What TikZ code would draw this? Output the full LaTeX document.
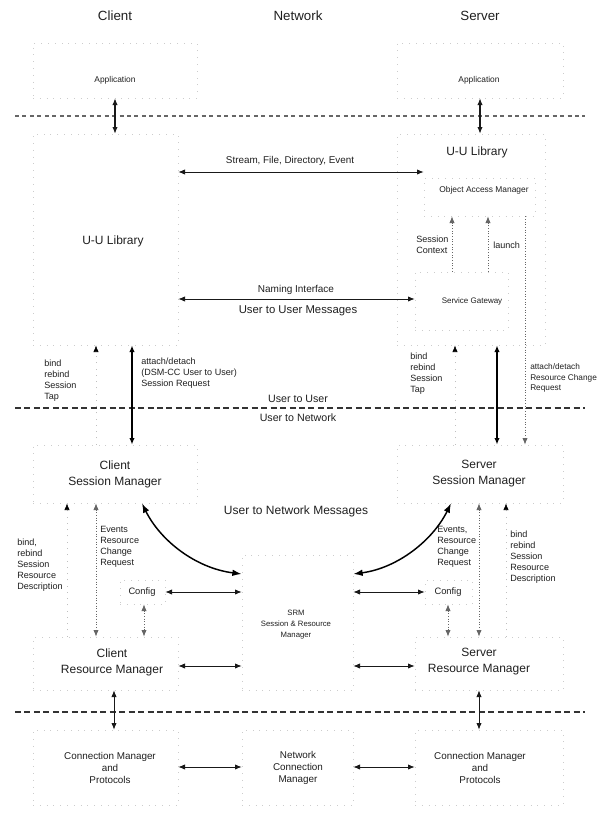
\documentclass[tikz,border=0pt]{standalone}
\usepackage{fontspec}
\setmainfont{Liberation Sans}
\usetikzlibrary{arrows.meta,fit}
\begin{document}
\begin{tikzpicture}[x=0.75pt,y=-0.75pt,
  >={Latex[length=5pt,width=4pt]},
  every node/.style={inner sep=0pt, text=black!88},
  boxfaint/.style={draw=black!20, line width=0.5pt, dash pattern=on 0.6pt off 4.5pt, inner sep=0pt},
  sepline/.style={draw=black!80, line width=0.8pt, dash pattern=on 4.5pt off 2.6pt},
  hdr/.style={font=\fontsize{10}{12}\selectfont},
  big/.style={font=\fontsize{9}{12}\selectfont, align=center},
  mid/.style={font=\fontsize{8}{10}\selectfont},
  lbl/.style={font=\fontsize{6.8}{8.25}\selectfont, align=left, anchor=west},
  small/.style={font=\fontsize{6.3}{8.25}\selectfont, align=center},
  cfg/.style={font=\fontsize{7}{9}\selectfont},
  cmtext/.style={font=\fontsize{7.4}{9}\selectfont, align=center},
  twoway/.style={<->, line width=0.6pt, draw=black!90},
  heavy/.style={<->, line width=1pt, draw=black},
  dotup/.style={->, draw=black!60, line width=0.6pt, dash pattern=on 0.8pt off 1.2pt},
  dotdown/.style={->, draw=black!60, line width=0.6pt, dash pattern=on 0.8pt off 1.2pt},
  dotdbl/.style={<->, draw=black!60, line width=0.6pt, dash pattern=on 0.8pt off 1.2pt},
  faintup/.style={draw=black!25, line width=0.5pt, dash pattern=on 0.7pt off 4pt, -{Latex[length=5pt,width=4pt,black]}},
  swoop/.style={{Latex[length=7pt,width=5pt]}-{Latex[length=7pt,width=5pt]}, line width=1.1pt}
]
\useasboundingbox (0,0) rectangle (597,815);

% column headings
\node[hdr] (hclient) at (115,16) {Client};
\node[hdr] (hnet) at (298,16) {Network};
\node[hdr] (hserver) at (480,16) {Server};

% component outlines
\node[boxfaint, fit={(33,43) (197,98)}] (capp) {};
\node[boxfaint, fit={(397,43) (563,98)}] (sapp) {};
\node[boxfaint, fit={(33,134) (178,345)}] (cuu) {};
\node[boxfaint, fit={(397,134) (545,345)}] (suu) {};
\node[boxfaint, fit={(424,178) (535,216)}] (oam) {};
\node[boxfaint, fit={(415,272) (508,330)}] (sgw) {};
\node[boxfaint, fit={(33,445) (197,503)}] (csm) {};
\node[boxfaint, fit={(397,445) (563,503)}] (ssm) {};
\node[boxfaint, fit={(120,580) (165,604)}] (ccfg) {};
\node[boxfaint, fit={(425,580) (472,604)}] (scfg) {};
\node[boxfaint, fit={(242,555) (353,690)}] (srm) {};
\node[boxfaint, fit={(33,637) (178,690)}] (crm) {};
\node[boxfaint, fit={(415,637) (563,690)}] (srmgr) {};
\node[boxfaint, fit={(33,730) (178,805)}] (ccm) {};
\node[boxfaint, fit={(242,730) (353,805)}] (ncm) {};
\node[boxfaint, fit={(415,730) (563,805)}] (scm) {};

% layer separators
\draw[sepline, draw=black!60, dash pattern=on 3pt off 2.6pt] (15,116) -- (585,116);
\draw[sepline] (15,408) -- (585,408);
\draw[sepline] (15,712) -- (585,712);

% labels
\node[small] (tcapp) at (115,80) {Application};
\node[small] (tsapp) at (479,80) {Application};
\node[big] (tsuu) at (477,152) {U-U Library};
\node[big] (tcuu) at (113,241) {U-U Library};
\node[font=\fontsize{7.4}{9}\selectfont] (tsfde) at (290,161) {Stream, File, Directory, Event};
\node[small] (toam) at (484,190) {Object Access Manager};
\node[lbl] (tsc) at (416,245) {Session\\Context};
\node[lbl] (tlaunch) at (493,245) {launch};
\node[font=\fontsize{7.5}{9}\selectfont] (tni) at (296,290) {Naming Interface};
\node[font=\fontsize{8.5}{10}\selectfont] (tuum) at (298,311) {User to User Messages};
\node[font=\fontsize{6}{8}\selectfont] (tsg) at (472,301) {Service Gateway};
\node[lbl] (tcbind) at (44,381) {bind\\rebind\\Session\\Tap};
\node[lbl] (tcatt) at (141,373) {attach/detach\\(DSM-CC User to User)\\Session Request};
\node[mid] (tuu) at (298,399) {User to User};
\node[mid] (tun) at (298,418) {User to Network};
\node[lbl] (tsbind) at (410,374) {bind\\rebind\\Session\\Tap};
\node[lbl, font=\fontsize{6.2}{8}\selectfont] (tsatt) at (530,378) {attach/detach\\Resource Change\\Request};
\node[big] (tcsm) at (115,474) {Client\\Session Manager};
\node[big] (tssm) at (479,474) {Server\\Session Manager};
\node[big] (tunm) at (296,511) {User to Network Messages};
\node[lbl] (tcres) at (17,565) {bind,\\rebind\\Session\\Resource\\Description};
\node[lbl] (tcev) at (100,547) {Events\\Resource\\Change\\Request};
\node[lbl] (tsev) at (437,547) {Events,\\Resource\\Change\\Request};
\node[lbl] (tsres) at (510,557) {bind\\rebind\\Session\\Resource\\Description};
\node[cfg] (tccfg) at (142,592) {Config};
\node[cfg] (tscfg) at (448,592) {Config};
\node[small, font=\fontsize{5.8}{8.25}\selectfont] (tsrm) at (296,625) {SRM\\Session \& Resource\\Manager};
\node[big] (tcrm) at (112,662) {Client\\Resource Manager};
\node[big] (tsrmgr) at (479,662) {Server\\Resource Manager};
\node[cmtext] (tccm) at (110,768) {Connection Manager\\and\\Protocols};
\node[cmtext] (tncm) at (298,768) {Network\\Connection\\Manager};
\node[cmtext] (tscm) at (480,768) {Connection Manager\\and\\Protocols};

% connector positions
\coordinate (xapp) at (115,0);
\coordinate (xsapp) at (480,0);
\coordinate (xcbind) at (96,0);
\coordinate (xcatt) at (132,0);
\coordinate (xsbind) at (455,0);
\coordinate (xsatt) at (497,0);
\coordinate (xsrcr) at (525,0);
\coordinate (xsctx) at (452,0);
\coordinate (xlaunch) at (488,0);
\coordinate (xcres) at (67,0);
\coordinate (xcev) at (96,0);
\coordinate (xccfg) at (144,0);
\coordinate (xscfg) at (448,0);
\coordinate (xsev) at (479,0);
\coordinate (xsres) at (506,0);
\coordinate (xcrm) at (114,0);
\coordinate (xsrm) at (479,0);
\coordinate (xccurve) at (142,0);
\coordinate (xscurve) at (451,0);
\coordinate (ystream) at (0,172);
\coordinate (ynaming) at (0,299);
\coordinate (ycurve) at (0,574);
\coordinate (ycfg) at (0,592);
\coordinate (yrm) at (0,666);
\coordinate (ycm) at (0,767);

% application to library
\draw[twoway, line width=0.8pt] (capp.south -| xapp) -- (cuu.north -| xapp);
\draw[twoway, line width=0.8pt] (sapp.south -| xsapp) -- (suu.north -| xsapp);

% user to user interfaces
\draw[twoway] (cuu.east |- ystream) -- (oam.west |- ystream);
\draw[twoway] (cuu.east |- ynaming) -- (sgw.west |- ynaming);

% server library internals
\draw[dotup] (sgw.north -| xsctx) -- (oam.south -| xsctx);
\draw[dotup] (sgw.north -| xlaunch) -- (oam.south -| xlaunch);
\draw[dotdown] (oam.south -| xsrcr) -- (ssm.north -| xsrcr);

% library to session managers
\draw[faintup] (csm.north -| xcbind) -- (cuu.south -| xcbind);
\draw[heavy] (cuu.south -| xcatt) -- (csm.north -| xcatt);
\draw[faintup] (ssm.north -| xsbind) -- (suu.south -| xsbind);
\draw[heavy] (suu.south -| xsatt) -- (ssm.north -| xsatt);

% user to network messages
\draw[swoop] (csm.south -| xccurve) .. controls (160,540) and (195,568) .. (srm.west |- ycurve);
\draw[swoop] (ssm.south -| xscurve) .. controls (433,540) and (398,568) .. (srm.east |- ycurve);

% client side session / resource links
\draw[dotdbl] (csm.south -| xcev) -- (crm.north -| xcev);
\draw[faintup] (crm.north -| xcres) -- (csm.south -| xcres);
\draw[twoway] (ccfg.east |- ycfg) -- (srm.west |- ycfg);
\draw[dotdbl] (ccfg.south -| xccfg) -- (crm.north -| xccfg);

% server side session / resource links
\draw[dotdbl] (ssm.south -| xsev) -- (srmgr.north -| xsev);
\draw[faintup] (srmgr.north -| xsres) -- (ssm.south -| xsres);
\draw[twoway] (srm.east |- ycfg) -- (scfg.west |- ycfg);
\draw[dotdbl] (scfg.south -| xscfg) -- (srmgr.north -| xscfg);

% resource managers
\draw[twoway] (crm.east |- yrm) -- (srm.west |- yrm);
\draw[twoway] (srm.east |- yrm) -- (srmgr.west |- yrm);

% connection management
\draw[twoway] (crm.south -| xcrm) -- (ccm.north -| xcrm);
\draw[twoway] (srmgr.south -| xsrm) -- (scm.north -| xsrm);
\draw[twoway] (ccm.east |- ycm) -- (ncm.west |- ycm);
\draw[twoway] (ncm.east |- ycm) -- (scm.west |- ycm);
\end{tikzpicture}
\end{document}
